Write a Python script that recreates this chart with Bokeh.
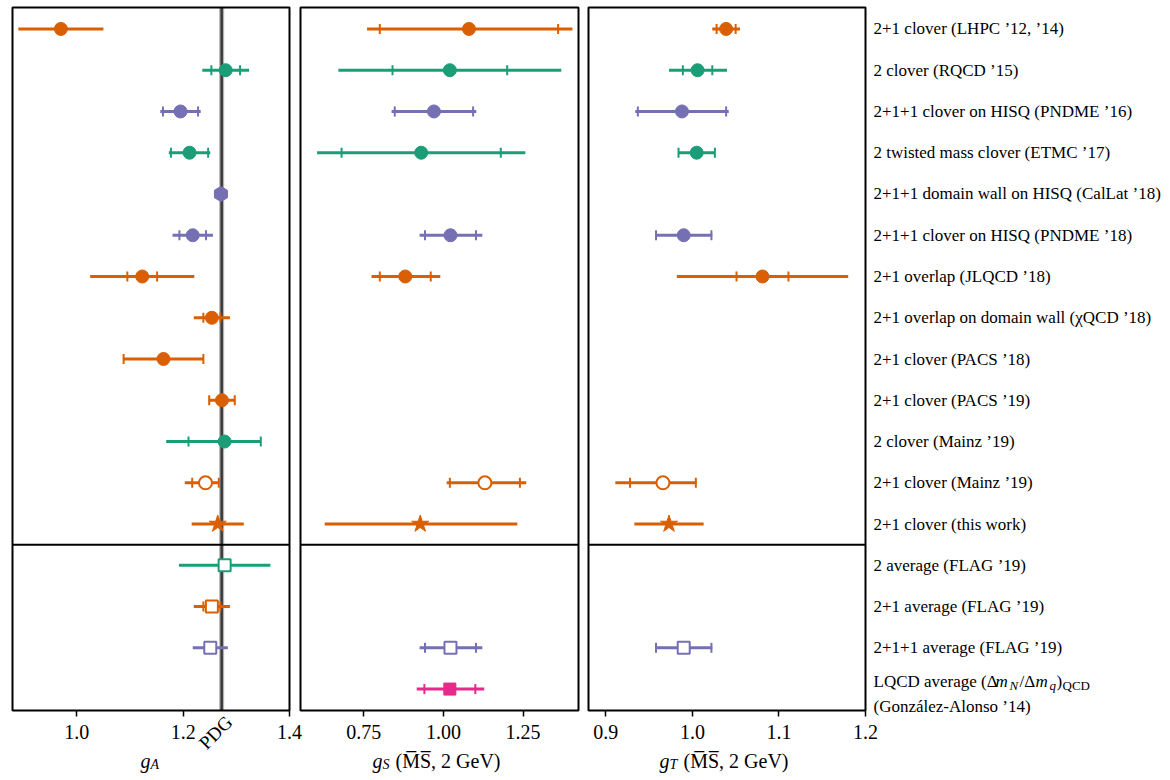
from math import pi, isnan

from bokeh.core.properties import value
from bokeh.embed import file_html
from bokeh.models import (ColumnDataSource, FixedTicker, LinearAxis,
                          NumeralTickFormatter, Range1d)
from bokeh.plotting import figure
from bokeh.resources import INLINE

nan = float("nan")

# ---------------------------------------------------------------- data
studies = [
    "2+1 clover (LHPC ’12, ’14)",
    "2 clover (RQCD ’15)",
    "2+1+1 clover on HISQ (PNDME ’16)",
    "2 twisted mass clover (ETMC ’17)",
    "2+1+1 domain wall on HISQ (CalLat ’18)",
    "2+1+1 clover on HISQ (PNDME ’18)",
    "2+1 overlap (JLQCD ’18)",
    "2+1 overlap on domain wall (χQCD ’18)",
    "2+1 clover (PACS ’18)",
    "2+1 clover (PACS ’19)",
    "2 clover (Mainz ’19)",
    "2+1 clover (Mainz ’19)",
    "2+1 clover (this work)",
    "2 average (FLAG ’19)",
    "2+1 average (FLAG ’19)",
    "2+1+1 average (FLAG ’19)",
]
# last row: "LQCD average (Δm_N/Δm_q)_QCD" / "(González-Alonso ’14)"
pheno_name = ["LQCD average (Δ", "m", "N", "/Δ", "m", "q", ")", "QCD"]
pheno_ref = "(González-Alonso ’14)"

flavours = ["2+1", "2", "2+1+1", "2", "2+1+1", "2+1+1", "2+1", "2+1", "2+1",
            "2+1", "2", "2+1", "2+1", "2", "2+1", "2+1+1", "pheno"]
markers = ["circle", "circle", "circle", "circle", "hex", "circle", "circle",
           "circle", "circle", "circle", "circle", "circle", "star",
           "square", "square", "square", "square"]
filled = [True, True, True, True, True, True, True, True, True, True, True,
          False, True, False, False, False, True]

# axial charge: central value, statistical error, total lower / upper error
gA = [0.970, 1.280, 1.195, 1.212, 1.271, 1.218, 1.123, 1.254, 1.163, 1.273,
      1.278, 1.242, 1.265, 1.278, 1.254, 1.251, nan]
gA_stat = [nan, 0.027, 0.033, 0.035, nan, 0.025, 0.028, 0.016, 0.075, 0.024,
           0.068, 0.025, nan, nan, 0.016, nan, nan]
gA_lo = [0.080, 0.044, 0.038, 0.039, 0.013, 0.038, 0.098, 0.034, 0.076, 0.025,
         0.110, 0.039, 0.049, 0.086, 0.034, 0.033, nan]
gA_hi = [0.080, 0.044, 0.038, 0.039, 0.013, 0.038, 0.098, 0.034, 0.076, 0.025,
         0.068, 0.025, 0.049, 0.086, 0.034, 0.033, nan]

# scalar charge
gS = [1.080, 1.020, 0.970, 0.930, nan, 1.022, 0.880, nan, nan, nan,
      nan, 1.130, 0.927, nan, nan, 1.022, 1.020]
gS_stat = [0.280, 0.180, 0.123, 0.250, nan, 0.080, 0.080, nan, nan, nan,
           nan, 0.110, nan, nan, nan, 0.080, 0.080]
gS_lo = [0.320, 0.350, 0.133, 0.327, nan, 0.097, 0.106, nan, nan, nan,
         nan, 0.120, 0.300, nan, nan, 0.097, 0.104]
gS_hi = [0.325, 0.350, 0.133, 0.327, nan, 0.100, 0.110, nan, nan, nan,
         nan, 0.130, 0.305, nan, nan, 0.100, 0.108]

# tensor charge
gT = [1.039, 1.006, 0.988, 1.005, nan, 0.990, 1.081, nan, nan, nan,
      nan, 0.966, 0.973, nan, nan, 0.990, nan]
gT_stat = [0.011, 0.017, 0.051, 0.021, nan, 0.032, 0.030, nan, nan, nan,
           nan, 0.038, nan, nan, nan, 0.032, nan]
gT_lo = [0.016, 0.033, 0.054, 0.021, nan, 0.032, 0.099, nan, nan, nan,
         nan, 0.055, 0.040, nan, nan, 0.032, nan]
gT_hi = [0.016, 0.034, 0.054, 0.021, nan, 0.033, 0.099, nan, nan, nan,
         nan, 0.039, 0.040, nan, nan, 0.033, nan]

pdg_gA = 1.2724

gA_ticks = [1.0, 1.2, 1.4]
gS_ticks = [0.75, 1.00, 1.25]
gT_ticks = [0.9, 1.0, 1.1, 1.2]

# ---------------------------------------------------------------- layout
W, H = 1170, 780
N = len(flavours)
TOP, BOT = 7, 710                 # pixel rows of the panel boxes
ROW_TOP, ROW_BOT = -0.52, N - 0.48
UPP_Y = (ROW_BOT - ROW_TOP) / (BOT - TOP)


def ypx(px):
    """row coordinate of a pixel row of the page"""
    return ROW_TOP + (px - TOP) * UPP_Y


# name -> (value range, pixel columns of the panel box, ticks, format)
panels = {
    "gA": ((0.879, 1.400), (12, 289), gA_ticks, "0.0"),
    "gS": ((0.551, 1.424), (300, 578), gS_ticks, "0.00"),
    "gT": ((0.880, 1.200), (588, 865), gT_ticks, "0.0"),
}

colours = {"2": "#1b9e77", "2+1": "#d95f02", "2+1+1": "#7570b3",
           "pheno": "#e7298a"}
marker_size = {"circle": 13, "hex": 15, "star": 18, "square": 12}
marker_angle = {"circle": 0.0, "hex": pi / 6, "star": 0.0, "square": 0.0}
SERIF = "Liberation Serif"

p = figure(width=W, height=H, x_range=Range1d(0, W),
           y_range=Range1d(ypx(H), ypx(0)), min_border=0,
           x_axis_location=None, y_axis_location=None,
           toolbar_location=None, output_backend="svg")
p.xgrid.visible = False
p.ygrid.visible = False
p.outline_line_color = None
p.background_fill_color = "white"
p.border_fill_color = "white"

ranges = {}
for name, ((v0, v1), (x0, x1), _, _) in panels.items():
    upp = (v1 - v0) / (x1 - x0)
    ranges[name] = Range1d(v0 - x0 * upp, v1 + (W - x1) * upp)
p.extra_x_ranges = ranges

for name, ((v0, v1), _, ticks, fmt) in panels.items():
    ax = LinearAxis(x_range_name=name, fixed_location=ROW_BOT,
                    ticker=FixedTicker(ticks=ticks),
                    formatter=NumeralTickFormatter(format=fmt))
    ax.axis_line_color = None
    ax.major_tick_in = 0
    ax.major_tick_out = 6
    ax.major_tick_line_width = 1.5
    ax.major_tick_line_color = "black"
    ax.minor_tick_line_color = None
    ax.major_label_text_font = SERIF
    ax.major_label_text_font_size = "20px"
    ax.major_label_text_color = "black"
    ax.major_label_standoff = 8
    p.add_layout(ax, "below")

# PDG value of g_A
p.segment(x0=[pdg_gA], x1=[pdg_gA], y0=[ROW_TOP], y1=[ROW_BOT],
          x_range_name="gA", line_color="#a0a0a0", line_width=5,
          line_alpha=0.8)
p.segment(x0=[pdg_gA], x1=[pdg_gA], y0=[ROW_TOP], y1=[ROW_BOT],
          x_range_name="gA", line_color="#3a3a3a", line_width=2.5)
p.text(x=[pdg_gA], y=[ypx(732)], text=["PDG"], x_range_name="gA",
       x_offset=-6, angle=pi / 4, text_font=value(SERIF),
       text_font_size="19px", text_color="black", text_align="center",
       text_baseline="middle")


def draw(name, val, stat, lo, hi):
    rows = [i for i, v in enumerate(val) if not isnan(v)]
    src = ColumnDataSource(dict(
        y=rows,
        x=[val[i] for i in rows],
        x0=[val[i] - lo[i] for i in rows],
        x1=[val[i] + hi[i] for i in rows],
        color=[colours[flavours[i]] for i in rows],
        fill=[colours[flavours[i]] if filled[i] else "white" for i in rows],
        marker=[markers[i] for i in rows],
        size=[marker_size[markers[i]] for i in rows],
        angle=[marker_angle[markers[i]] for i in rows],
        lw=[1.0 if filled[i] else 2.0 for i in rows],
    ))
    p.segment(x0="x0", y0="y", x1="x1", y1="y", line_color="color",
              line_width=3, source=src, x_range_name=name)
    srows = [i for i in rows if not isnan(stat[i])]
    tsrc = ColumnDataSource(dict(
        x=[val[i] - stat[i] for i in srows] + [val[i] + stat[i] for i in srows],
        y=srows + srows,
        color=[colours[flavours[i]] for i in srows] * 2,
    ))
    p.scatter(x="x", y="y", marker="dash", angle=pi / 2, size=10,
              line_color="color", line_width=2, source=tsrc,
              x_range_name=name)
    p.scatter(x="x", y="y", marker="marker", size="size", angle="angle",
              fill_color="fill", line_color="color", line_width="lw",
              source=src, x_range_name=name)


draw("gA", gA, gA_stat, gA_lo, gA_hi)
draw("gS", gS, gS_stat, gS_lo, gS_hi)
draw("gT", gT, gT_stat, gT_lo, gT_hi)

# panel boxes and the line between single results and averages
for name, ((v0, v1), _, _, _) in panels.items():
    p.segment(x0=[v0], x1=[v1], y0=[N - 4.5], y1=[N - 4.5],
              x_range_name=name, line_color="black", line_width=2)
    p.quad(left=[v0], right=[v1], top=[ROW_TOP], bottom=[ROW_BOT],
           x_range_name=name, fill_color=None, line_color="black",
           line_width=2)


def txt(x, y, s, size, italic=False, baseline="alphabetic"):
    p.text(x=[x], y=[y], text=[s], text_font=value(SERIF),
           text_font_size=f"{size}px",
           text_font_style="italic" if italic else "normal",
           text_color="black", text_align="left", text_baseline=baseline)


# axis titles
TB = ypx(760)      # baseline of the titles
TS = ypx(764)      # baseline of their subscripts
txt(140, TB, "g", 20, italic=True)
txt(150, TS, "A", 14, italic=True)
txt(372, TB, "g", 20, italic=True)
txt(382, TS, "S", 14, italic=True)
txt(395, TB, "(M\u0305S\u0305, 2 GeV)", 20)
txt(659, TB, "g", 20, italic=True)
txt(669, TS, "T", 14, italic=True)
txt(683, TB, "(M\u0305S\u0305, 2 GeV)", 20)

# study names right of the last panel
LX = 873
p.text(x=[LX] * len(studies), y=list(range(len(studies))), text=studies,
       text_font=value(SERIF), text_font_size="17px", text_color="black",
       text_align="left", text_baseline="middle")

# two-line name of the last row, with its subscripts
L1, L1S, L2 = ypx(681), ypx(685), ypx(706)
pheno_dx = [0, 122, 136, 146, 162, 176, 183, 189]
pheno_sub = [False, False, True, False, False, True, False, True]
pheno_it = [False, True, True, False, True, True, False, False]
for s, dx, sub, it in zip(pheno_name, pheno_dx, pheno_sub, pheno_it):
    txt(LX + dx, L1S if sub else L1, s, 13 if sub else 17, italic=it,
        baseline="middle")
txt(LX, L2, pheno_ref, 17, baseline="middle")

open("out.html", "w").write(file_html(p, INLINE))
